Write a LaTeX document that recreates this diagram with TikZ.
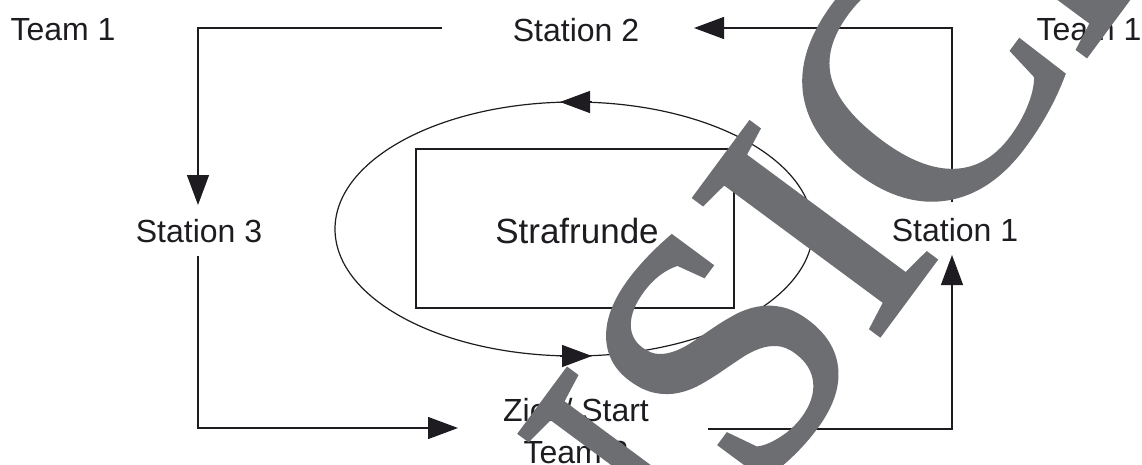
\documentclass[tikz,border=0pt]{standalone}
\usepackage{fontspec}
\setmainfont{Liberation Sans}
\newfontfamily\wmfont[FakeBold=1.6]{Liberation Serif}
\usetikzlibrary{arrows.meta}
\definecolor{wmgray}{RGB}{109,110,113}
\definecolor{ink}{RGB}{30,28,32}
\tikzset{
  lbl/.style={inner sep=0pt, text=ink, font=\fontsize{32}{42}\selectfont},
  conn/.style={line width=1.2pt, draw=ink},
  arr/.style={conn, -{Triangle[length=30pt,width=22pt]}},
}
\begin{document}
\begin{tikzpicture}[x=1pt,y=-1pt]
\useasboundingbox[fill=white] (0,0) rectangle (1142,464);
% texts
\node[lbl] (team1l) at (63,30) {Team 1};
\node[lbl] (st2) at (576,30) {Station 2};
\node[lbl] (team1r) at (1089,30) {Team 1};
\node[lbl] (st3) at (199,231) {Station 3};
\node[lbl] (st1) at (955,230) {Station 1};
\node[lbl, align=center, font=\fontsize{32}{42}\selectfont] (ziel) at (576,431) {Ziel / Start\\Team 2};
% penalty loop
\node[draw=ink, line width=1.2pt, minimum width=318pt, minimum height=159pt, inner sep=0pt] (box) at (575,228.5) {};
\node[lbl, font=\fontsize{35}{42}\selectfont] (straf) at (577,231) {Strafrunde};
\draw[conn] (574,229) ellipse [x radius=239, y radius=127];
\coordinate (etopA) at (592,102);
\coordinate (etopB) at (560,102);
\coordinate (ebotA) at (560,356);
\coordinate (ebotB) at (592,356);
\draw[arr] (etopA) -- (etopB);
\draw[arr] (ebotA) -- (ebotB);
% connectors
\coordinate (c1) at (442,28);
\coordinate (c2) at (198,28);
\coordinate (c3) at (198,205);
\draw[arr] (c1) -- (c2) -- (c3);
\coordinate (c4) at (952,202);
\coordinate (c5) at (952,28);
\coordinate (c6) at (694,28);
\draw[arr] (c4) -- (c5) -- (c6);
\coordinate (c7) at (198,256);
\coordinate (c8) at (198,428);
\coordinate (c9) at (458,428);
\draw[arr] (c7) -- (c8) -- (c9);
\coordinate (c10) at (708,429);
\coordinate (c11) at (952,429);
\coordinate (c12) at (952,255);
\draw[arr] (c10) -- (c11) -- (c12);
% watermark
\node[rotate=53.5, anchor=base, inner sep=0pt, text=wmgray, font=\fontsize{350}{350}\selectfont\wmfont] (wm) at (907,297) {ANSICHT};
\end{tikzpicture}
\end{document}
